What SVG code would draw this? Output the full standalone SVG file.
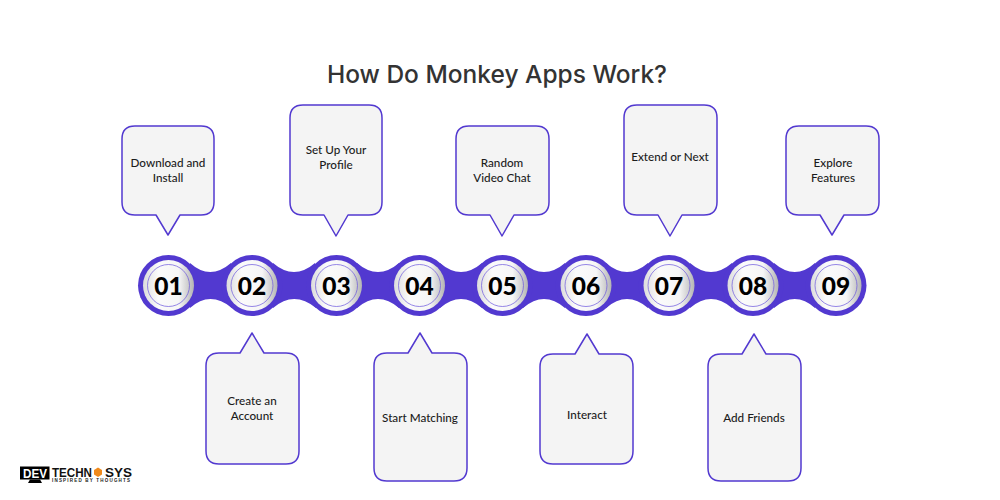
<svg xmlns="http://www.w3.org/2000/svg" width="1000" height="500" viewBox="0 0 1000 500">
<defs>
<linearGradient id="disc" x1="0" y1="0" x2="1" y2="0"><stop offset="0" stop-color="#dcdcdc"/><stop offset="0.3" stop-color="#fbfbfb"/><stop offset="0.7" stop-color="#f6f6f6"/><stop offset="1" stop-color="#b4b4b4"/></linearGradient>
</defs>
<style>
text{font-family:"Lato","Liberation Sans",sans-serif;text-anchor:middle}
.t{font-size:11.7px;font-weight:500;fill:#1c1c1c}
.b{fill:#f4f4f4;stroke:#5239d0;stroke-width:1.5;stroke-linejoin:round}
.o{fill:#5239d0}
.d{fill:url(#disc)}
.r{fill:none;stroke:#6a55dc;stroke-width:.7}
.n{font-size:24.500px;font-weight:900;fill:#000}
.l{font-family:"Liberation Sans",sans-serif;font-weight:700;text-anchor:start}
</style>
<rect width="1000" height="500" fill="#fff"/>
<text x="497" y="83" style="font-size:24.500px;font-weight:500;fill:#333;font-family:'Inter','Liberation Sans',sans-serif">How Do Monkey Apps Work?</text>
<g id="connectors">
<path class="o" d="M190 263Q210 281 231 263L232 308Q210 290 190 308Z"/>
<path class="o" d="M273 263Q294 281 315 263L316 308Q294 290 273 308Z"/>
<path class="o" d="M357 263Q378 281 399 263L399 308Q378 290 357 308Z"/>
<path class="o" d="M440 263Q461 281 482 263L482 308Q461 290 440 308Z"/>
<path class="o" d="M523 263Q544 281 565 263L565 308Q544 290 523 308Z"/>
<path class="o" d="M606 263Q627 281 648 263L648 308Q627 290 606 308Z"/>
<path class="o" d="M690 263Q711 281 732 263L732 308Q711 290 690 308Z"/>
<path class="o" d="M774 263Q795 281 815 263L815 308Q795 290 774 308Z"/>
</g>
<g id="n01"><circle class="o" cx="168.500" cy="285.500" r="30.500"/><circle class="d" cx="168.500" cy="285.500" r="25.500"/><circle class="r" cx="168.500" cy="285.500" r="21"/><text class="n" x="168.500" y="294.500">01</text></g>
<g id="n02"><circle class="o" cx="252" cy="285.500" r="30.500"/><circle class="d" cx="252" cy="285.500" r="25.500"/><circle class="r" cx="252" cy="285.500" r="21"/><text class="n" x="252" y="294.500">02</text></g>
<g id="n03"><circle class="o" cx="336.500" cy="285.500" r="30.500"/><circle class="d" cx="336.500" cy="285.500" r="25.500"/><circle class="r" cx="336.500" cy="285.500" r="21"/><text class="n" x="336.500" y="294.500">03</text></g>
<g id="n04"><circle class="o" cx="419.500" cy="285.500" r="30.500"/><circle class="d" cx="419.500" cy="285.500" r="25.500"/><circle class="r" cx="419.500" cy="285.500" r="21"/><text class="n" x="419.500" y="294.500">04</text></g>
<g id="n05"><circle class="o" cx="502.500" cy="285.500" r="30.500"/><circle class="d" cx="502.500" cy="285.500" r="25.500"/><circle class="r" cx="502.500" cy="285.500" r="21"/><text class="n" x="502.500" y="294.500">05</text></g>
<g id="n06"><circle class="o" cx="586" cy="285.500" r="30.500"/><circle class="d" cx="586" cy="285.500" r="25.500"/><circle class="r" cx="586" cy="285.500" r="21"/><text class="n" x="586" y="294.500">06</text></g>
<g id="n07"><circle class="o" cx="669" cy="285.500" r="30.500"/><circle class="d" cx="669" cy="285.500" r="25.500"/><circle class="r" cx="669" cy="285.500" r="21"/><text class="n" x="669" y="294.500">07</text></g>
<g id="n08"><circle class="o" cx="753" cy="285.500" r="30.500"/><circle class="d" cx="753" cy="285.500" r="25.500"/><circle class="r" cx="753" cy="285.500" r="21"/><text class="n" x="753" y="294.500">08</text></g>
<g id="n09"><circle class="o" cx="836" cy="285.500" r="30.500"/><circle class="d" cx="836" cy="285.500" r="25.500"/><circle class="r" cx="836" cy="285.500" r="21"/><text class="n" x="836" y="294.500">09</text></g>
<g id="c1"><path class="b" d="M135 126H201Q214 126 214 139V202Q214 215 201 215H180L168 235L156 215H135Q122 215 122 202V139Q122 126 135 126Z"/><text class="t" x="168" y="167">Download and</text><text class="t" x="168" y="182">Install</text></g>
<g id="c3"><path class="b" d="M303 105H369Q382 105 382 118V202Q382 215 369 215H348L336 236L324 215H303Q290 215 290 202V118Q290 105 303 105Z"/><text class="t" x="336" y="154">Set Up Your</text><text class="t" x="336" y="169">Profile</text></g>
<g id="c5"><path class="b" d="M469 126H536Q549 126 549 139V202Q549 215 536 215H514L502 236L490 215H469Q456 215 456 202V139Q456 126 469 126Z"/><text class="t" x="502" y="167">Random</text><text class="t" x="502" y="182">Video Chat</text></g>
<g id="c7"><path class="b" d="M637 105H704Q717 105 717 118V202Q717 215 704 215H682L670 236L658 215H637Q624 215 624 202V118Q624 105 637 105Z"/><text class="t" x="670" y="161">Extend or Next</text></g>
<g id="c9"><path class="b" d="M799 126H866Q879 126 879 139V202Q879 215 866 215H844L832 235L820 215H799Q786 215 786 202V139Q786 126 799 126Z"/><text class="t" x="833" y="167">Explore</text><text class="t" x="833" y="182">Features</text></g>
<g id="c2"><path class="b" d="M219 353H240L252 333L264 353H286Q299 353 299 366V451Q299 464 286 464H219Q206 464 206 451V366Q206 353 219 353Z"/><text class="t" x="252" y="405">Create an</text><text class="t" x="252" y="420">Account</text></g>
<g id="c4"><path class="b" d="M387 353H408L420 333L432 353H454Q467 353 467 366V468Q467 481 454 481H387Q374 481 374 468V366Q374 353 387 353Z"/><text class="t" x="420" y="422">Start Matching</text></g>
<g id="c6"><path class="b" d="M553 354H575L587 334L599 354H620Q633 354 633 367V451Q633 464 620 464H553Q540 464 540 451V367Q540 354 553 354Z"/><text class="t" x="587" y="419">Interact</text></g>
<g id="c8"><path class="b" d="M721 354H742L754 334L766 354H788Q801 354 801 367V468Q801 481 788 481H721Q708 481 708 468V367Q708 354 721 354Z"/><text class="t" x="754" y="422">Add Friends</text></g>
<g id="logo">
<rect x="20" y="466.500" width="29.500" height="13" fill="#000"/>
<path d="M30 479.500H40L42 483H28Z" fill="#000"/>
<text class="l" x="23" y="477.500" textLength="24" lengthAdjust="spacingAndGlyphs" style="font-size:12px;fill:#fff">DEV</text>
<text class="l" x="52" y="476.500" textLength="40" lengthAdjust="spacingAndGlyphs" style="font-size:12.500px;fill:#111">TECHN</text>
<path d="M98 467.500L102 470V474.500L98 477L94 474.500V470Z" fill="#f08a1c"/>
<text class="l" x="105" y="476.500" textLength="27" lengthAdjust="spacingAndGlyphs" style="font-size:12.500px;fill:#111">SYS</text>
<text class="l" x="52" y="481.500" textLength="78" lengthAdjust="spacing" style="font-size:4.500px;fill:#222">INSPIRED BY THOUGHTS</text>
</g>
</svg>
